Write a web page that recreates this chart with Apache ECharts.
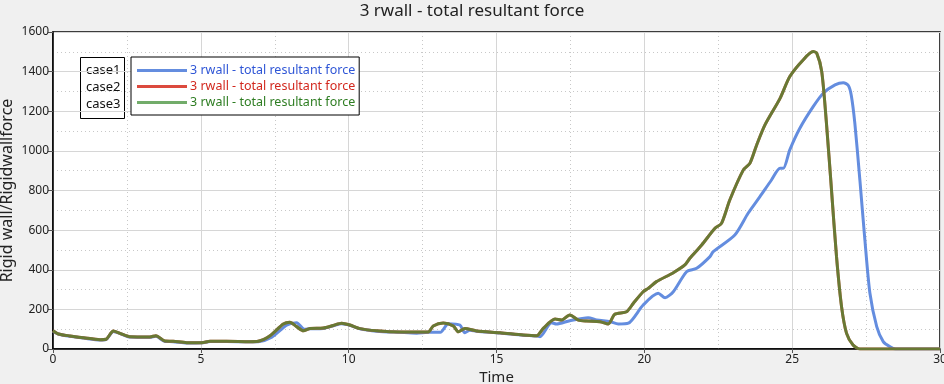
<!DOCTYPE html>
<html><head><meta charset="utf-8">
<script src="https://cdn.jsdelivr.net/npm/echarts@6/dist/echarts.min.js"></script>
<style>html,body{margin:0;padding:0;background:#f0f0f0}#c{width:944px;height:384px}</style>
</head><body><div id="c"></div>
<script>
var titleText = '3 rwall - total resultant force';
var caseNames = ['case1', 'case2', 'case3'];
var seriesLabel = '3 rwall - total resultant force';
var xTicks = [0, 5, 10, 15, 20, 25, 30];
var yTicks = [0, 200, 400, 600, 800, 1000, 1200, 1400, 1600];

var case1T = [0,0.18,0.57,1.03,1.59,1.79,2.04,2.27,2.6,3.28,3.48,3.79,4.07,4.52,5.03,5.31,5.87,6.66,6.94,7.4,7.9,8.24,8.5,8.69,9.14,9.48,9.76,10.04,10.38,10.95,11.73,12.3,12.69,13.1,13.37,13.76,13.93,14.1,14.33,15.12,15.9,16.36,16.47,16.86,17.03,17.48,18.1,18.39,18.84,19.12,19.46,19.96,20.47,20.7,20.98,21.43,21.77,22.22,22.33,23.06,23.51,23.91,24.3,24.59,24.7,24.92,25.26,25.71,26.05,26.45,26.73,26.9,27.0,27.12,27.29,27.46,27.63,27.86,28.08,28.3,28.5,30];
var case1V = [90,76,64,55,45,47,88,78,60,59,64,38,37,30,31,38,38,36,37,60,120,133,100,102,104,117,128,120,102,90,84,80,84,84,128,121,82,95,90,81,70,66,62,133,126,143,158,146,138,126,130,222,281,259,289,390,407,466,491,575,685,769,853,912,912,1005,1114,1223,1291,1333,1344,1330,1280,1139,853,550,281,113,37,12,0,0];

var case2T = [0,0.18,0.57,1.03,1.59,1.79,2.04,2.27,2.6,3.28,3.48,3.79,4.07,4.52,5.03,5.31,5.87,6.66,6.94,7.34,7.79,8.01,8.24,8.47,8.69,9.14,9.48,9.76,10.04,10.38,10.95,11.73,12.69,12.86,13.2,13.54,13.71,13.93,14.33,15.12,15.9,16.36,16.58,16.98,17.2,17.48,17.77,18.05,18.5,18.78,19.0,19.4,19.63,19.96,20.13,20.41,20.98,21.37,21.54,21.94,22.39,22.61,22.89,23.35,23.57,23.8,24.08,24.59,24.92,25.37,25.71,25.83,26.0,26.16,26.33,26.5,26.67,26.84,27.06,27.29,30];
var case2V = [92,76,66,57,47,49,91,79,62,61,67,40,39,32,32,39,39,37,39,67,126,135,113,92,104,106,119,130,121,103,92,86,86,116,131,116,87,104,91,82,71,67,104,151,146,172,146,141,138,126,175,188,231,289,306,340,385,424,458,525,609,634,752,904,937,1030,1131,1265,1375,1459,1501,1493,1400,1139,803,466,214,79,20,0,0];
var case3T = case2T.slice();
var case3V = case2V.slice();

function pairs(t, v) { return t.map(function (x, i) { return [x, v[i]]; }); }

var chart = echarts.init(document.getElementById('c'), null, {renderer: 'canvas'});
var FONT = 'Noto Sans';
chart.setOption({
  backgroundColor: '#f0f0f0',
  animation: false,
  textStyle: {fontFamily: FONT},
  title: {text: titleText, left: 'center', top: -2,
    textStyle: {fontFamily: FONT, fontSize: 17, fontWeight: 'normal', color: '#222'}},
  grid: {left: 53, right: 4, top: 32, bottom: 35, show: true, backgroundColor: '#fff',
    borderColor: '#000', borderWidth: 1.5, containLabel: false, outerBoundsMode: 'none'},
  legend: {
    orient: 'vertical', left: 131, top: 57,
    data: [
      {name: caseNames[0], textStyle: {color: '#2f56d6'}},
      {name: caseNames[1], textStyle: {color: '#d2281e'}},
      {name: caseNames[2], textStyle: {color: '#2e7d22'}}
    ],
    formatter: function () { return seriesLabel; },
    icon: 'rect', itemWidth: 50, itemHeight: 3, itemGap: 3,
    padding: [7, 4, 6, 6],
    borderColor: '#000', borderWidth: 1, backgroundColor: '#fff',
    textStyle: {fontFamily: FONT, fontSize: 12.5, padding: [0, 0, 0, -2]}
  },
  graphic: [{
    type: 'group', left: 80, top: 57,
    children: [
      {type: 'rect', shape: {x: 0, y: 0, width: 44, height: 61},
       style: {fill: '#fff', stroke: '#000', lineWidth: 1}},
      {type: 'text', x: 40, y: 4, style: {text: caseNames.join('\n'), align: 'right',
        font: '13px "Noto Sans"', lineHeight: 17, fill: '#111'}}
    ]
  }],
  xAxis: {
    type: 'value', min: 0, max: 30, interval: 5,
    name: 'Time', nameLocation: 'middle', nameGap: 21, nameMoveOverlap: false,
    nameTextStyle: {fontSize: 15, color: '#222'},
    axisLine: {show: true, lineStyle: {color: '#000', width: 1.5}},
    axisTick: {show: true, length: 4, lineStyle: {color: '#555'}},
    axisLabel: {fontSize: 12, color: '#222', margin: 5, hideOverlap: false,
      formatter: function (v) { return xTicks.indexOf(v) >= 0 ? String(v) : ''; }},
    splitLine: {show: true, lineStyle: {color: '#d6d6d6', width: 1}},
    minorTick: {show: false, splitNumber: 2},
    minorSplitLine: {show: true, lineStyle: {color: '#c8c8c8', type: [1, 3], width: 1}}
  },
  yAxis: {
    type: 'value', min: 0, max: 1600, interval: 200,
    name: 'Rigid wall/Rigidwallforce', nameLocation: 'middle', nameGap: 38, nameMoveOverlap: false,
    nameTextStyle: {fontSize: 16, color: '#222'},
    axisLine: {show: true, lineStyle: {color: '#000', width: 1.5}},
    axisTick: {show: true, length: 5, lineStyle: {color: '#555'}},
    axisLabel: {fontSize: 12, color: '#222', margin: 4,
      formatter: function (v) { return yTicks.indexOf(v) >= 0 ? String(v) : ''; }},
    splitLine: {show: true, lineStyle: {color: '#d6d6d6', width: 1}},
    minorTick: {show: false, splitNumber: 2},
    minorSplitLine: {show: true, lineStyle: {color: '#c8c8c8', type: [1, 3], width: 1}}
  },
  series: [
    {name: caseNames[0], type: 'line', data: pairs(case1T, case1V), showSymbol: false, smooth: 0.25,
     color: '#648ddf', lineStyle: {width: 3, color: '#648ddf'}},
    {name: caseNames[1], type: 'line', data: pairs(case2T, case2V), showSymbol: false, smooth: 0.25,
     color: '#dc4a3e', lineStyle: {width: 3, color: '#dc4a3e'}},
    {name: caseNames[2], type: 'line', data: pairs(case3T, case3V), showSymbol: false, smooth: 0.25,
     color: 'rgba(60,140,48,0.72)', lineStyle: {width: 3, color: 'rgba(60,140,48,0.72)'}}
  ]
});
</script></body></html>
